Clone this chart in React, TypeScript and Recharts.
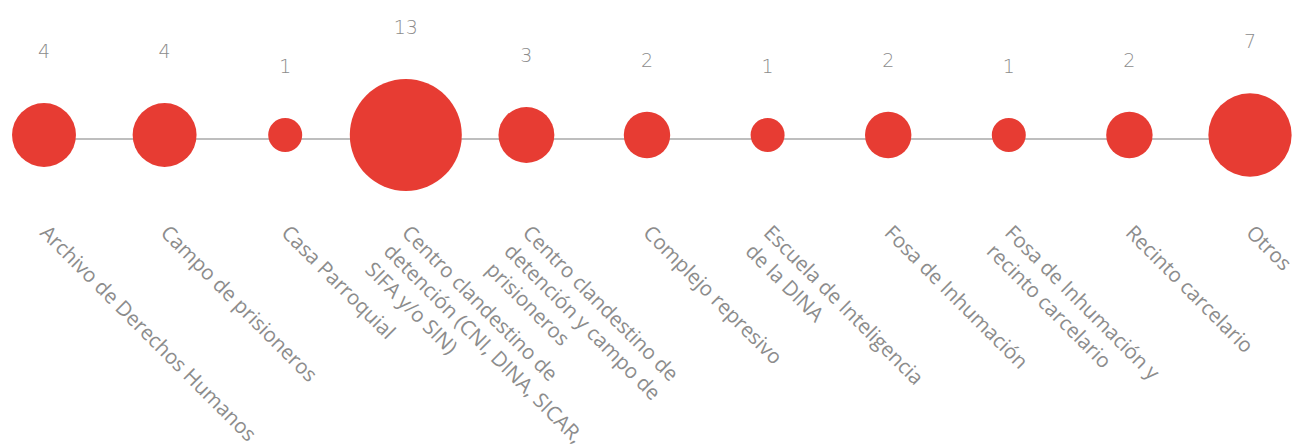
import React from 'react';
import { ScatterChart, Scatter, XAxis, YAxis, ZAxis } from 'recharts';

const categories = [
  'Archivo de Derechos Humanos',
  'Campo de prisioneros',
  'Casa Parroquial',
  'Centro clandestino de detención (CNI, DINA, SICAR, SIFA y/o SIN)',
  'Centro clandestino de detención y campo de prisioneros',
  'Complejo represivo',
  'Escuela de Inteligencia de la DINA',
  'Fosa de Inhumación',
  'Fosa de Inhumación y recinto carcelario',
  'Recinto carcelario',
  'Otros',
];

const counts = [4, 4, 1, 13, 3, 2, 1, 2, 1, 2, 7];

const tickLines = [
  ['Archivo de Derechos Humanos'],
  ['Campo de prisioneros'],
  ['Casa Parroquial'],
  ['Centro clandestino de', 'detención (CNI, DINA, SICAR,', 'SIFA y/o SIN)'],
  ['Centro clandestino de', 'detención y campo de', 'prisioneros'],
  ['Complejo represivo'],
  ['Escuela de Inteligencia', 'de la DINA'],
  ['Fosa de Inhumación'],
  ['Fosa de Inhumación y', 'recinto carcelario'],
  ['Recinto carcelario'],
  ['Otros'],
];

const RED = '#e73c33';
const GRAY = '#8c8c8c';

const data = categories.map((name, i) => ({ idx: i, name, value: counts[i], y: 0 }));

// size comes from the ZAxis (sqrt scale), used here as the radius
const Bubble = (props: any) => {
  const { cx, cy, size, payload } = props;
  const r = size;
  return (
    <g>
      <circle cx={cx} cy={cy} r={r} fill={RED} />
      <text
        x={cx}
        y={cy - r - 45}
        textAnchor="middle"
        fill={GRAY}
        fontSize={19}
        fontFamily="DejaVu Sans"
        fontWeight={300}
      >
        {payload.value}
      </text>
    </g>
  );
};

const CategoryTick = (props: any) => {
  const { x, payload } = props;
  const lines = tickLines[payload.value] || [];
  return (
    <text
      transform={`translate(${x - 5},${234}) rotate(45)`}
      fill={GRAY}
      fontSize={20.5}
      fontFamily="'Open Sans', sans-serif"
      textAnchor="start"
    >
      {lines.map((l, i) => (
        <tspan key={i} x={0} dy={i === 0 ? 0 : 26}>
          {l}
        </tspan>
      ))}
    </text>
  );
};

export default function App() {
  return (
    <div style={{ position: 'absolute', left: 0, top: 0, background: '#fff' }}>
      <ScatterChart width={1312} height={446} margin={{ top: 10, right: 62, bottom: 0, left: 44 }}>
        <XAxis
          type="number"
          dataKey="idx"
          domain={[0, 10]}
          ticks={[0, 1, 2, 3, 4, 5, 6, 7, 8, 9, 10]}
          interval={0}
          height={307}
          axisLine={{ stroke: '#a8a8a8', strokeWidth: 1.5 }}
          tickLine={false}
          tick={<CategoryTick />}
        />
        <YAxis type="number" dataKey="y" domain={[-4, 125]} hide />
        <ZAxis type="number" dataKey="value" domain={[1, 13]} range={[17, 56]} scale="sqrt" />
        <Scatter data={data} shape={<Bubble />} isAnimationActive={false} />
      </ScatterChart>
    </div>
  );
}
